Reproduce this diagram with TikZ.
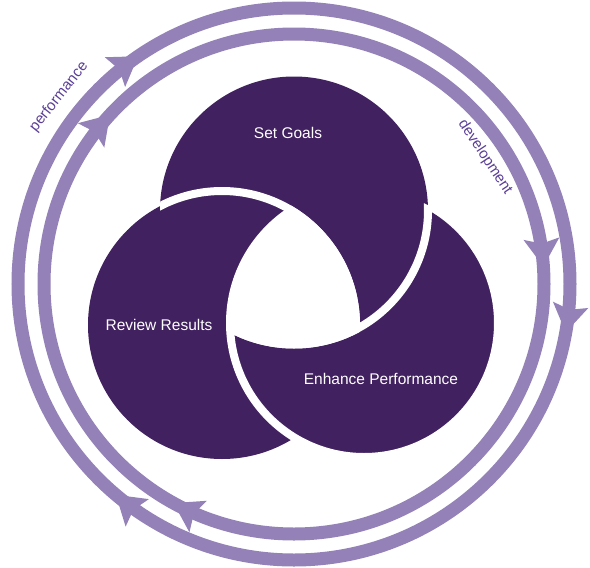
\documentclass[tikz,border=0pt]{standalone}
\usepackage{fontspec}
\setmainfont{Liberation Sans}
\usetikzlibrary{calc}
\definecolor{darkc}{HTML}{41215F}
\definecolor{ringc}{HTML}{9381B7}
\definecolor{lblc}{HTML}{5B3F96}
\tikzset{
  petal/.style={fill=darkc,draw=white,line width=8pt},
  gapline/.style={draw=white,line width=8pt},
  ringline/.style={draw=ringc,line width=13pt},
  ringarrow/.pic={\fill[ringc] (0,0) -- (-28,18) -- (-23,0) -- (-28,-18) -- cycle;},
  inlabel/.style={text=white,font=\fontsize{15.5}{18}\selectfont,inner sep=0pt},
  outlabel/.style={text=lblc,font=\fontsize{15}{18}\selectfont,inner sep=0pt}
}
\begin{document}
\begin{tikzpicture}[x=1pt,y=-1pt]
\useasboundingbox (0,0) rectangle (590,568);
\coordinate (O) at (294,284);
\coordinate (A) at (294,210.5);
\coordinate (B) at (222,325);
\coordinate (C) at (364,323);
% pinwheel of three discs
\fill[darkc] (B) circle[radius=134pt];
\path[petal] (C) circle[radius=134pt];
\fill[darkc] (A) circle[radius=134pt];
\begin{scope}
  \clip (C) circle[radius=134pt];
  \path[gapline] (A) circle[radius=134pt];
\end{scope}
\begin{scope}
  \clip (A) circle[radius=134pt];
  \path[petal] (B) circle[radius=134pt];
\end{scope}
\begin{scope}
  \clip (A) circle[radius=138pt];
  \clip (B) circle[radius=138pt];
  \fill[white] (C) circle[radius=138pt];
\end{scope}
% rings
\path[ringline] (O) circle[radius=276pt];
\path[ringline] (O) circle[radius=250pt];
\foreach \t in {-124.4,10.1,130.2}
  \path (O) ++(\t:276) pic[rotate={-(\t+90)}] {ringarrow};
\foreach \t in {-137.4,-4.0,118.8}
  \path (O) ++(\t:250) pic[rotate={-(\t+90)}] {ringarrow};
% labels
\node[inlabel] (sg) at (288,133) {Set Goals};
\node[inlabel] (rr) at (159,325) {Review Results};
\node[inlabel] (ep) at (381,379) {Enhance Performance};
\node[outlabel,rotate=51.5] (pf) at (59,97) {performance};
\node[outlabel,rotate=-56.4] (dv) at (485,157) {development};
\end{tikzpicture}
\end{document}
